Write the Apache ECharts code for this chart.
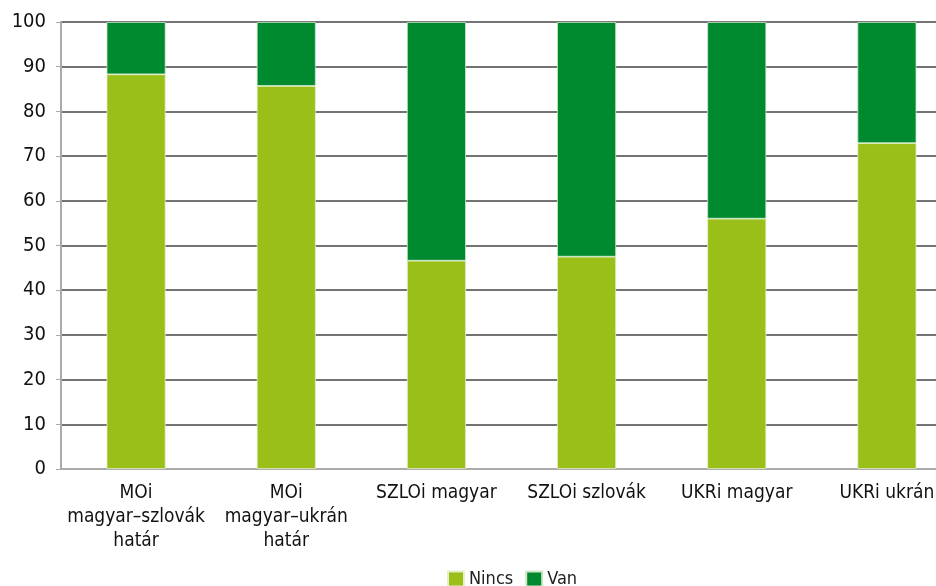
<!DOCTYPE html>
<html style="height: 100%">

<head>
    <meta charset="utf-8">
</head>

<body style="height: 100%; margin: 0; overflow: hidden">
    <!-- the last category runs past the right edge in the original, so the canvas is wider than the window -->
    <div id="container" style="width: 962px; height: 586px"></div>
    <script src="https://cdn.jsdelivr.net/npm/echarts@6/dist/echarts.min.js"></script>
    <script type="text/javascript">
        var categories = ['MOi\nmagyar–szlovák\nhatár', 'MOi\nmagyar–ukrán\nhatár', 'SZLOi magyar', 'SZLOi szlovák', 'UKRi magyar', 'UKRi ukrán'];
        var nincs = [88.3, 85.7, 46.6, 47.5, 56.0, 72.9];
        var van = [11.7, 14.3, 53.4, 52.5, 44.0, 27.1];
        var yTicks = [0, 10, 20, 30, 40, 50, 60, 70, 80, 90, 100];

        var font = '"DejaVu Sans Condensed", "Liberation Sans Narrow", "Open Sans", sans-serif';
        var dom = document.getElementById("container");
        var myChart = echarts.init(dom);

        var option = {
            animation: false,
            textStyle: { fontFamily: font },
            grid: {
                left: 61,
                top: 22,
                right: 0,
                bottom: 117
            },
            legend: {
                top: 570,
                left: 447,
                padding: 0,
                itemWidth: 16,
                itemHeight: 15,
                itemGap: 12,
                icon: 'rect',
                textStyle: { fontSize: 18, color: '#222', fontFamily: font },
                data: ['Nincs', 'Van']
            },
            xAxis: {
                type: 'category',
                data: categories,
                axisLine: { lineStyle: { color: '#aaa', width: 2 } },
                axisTick: { length: 6, lineStyle: { color: '#aaa' } },
                axisLabel: {
                    fontSize: 19,
                    color: '#111',
                    lineHeight: 24,
                    margin: 12,
                    interval: 0,
                    fontFamily: font
                }
            },
            yAxis: {
                type: 'value',
                min: yTicks[0],
                max: yTicks[yTicks.length - 1],
                interval: 10,
                axisLine: { show: true, lineStyle: { color: '#aaa', width: 2 } },
                axisTick: { show: true, length: 5, lineStyle: { color: '#aaa' } },
                axisLabel: { fontSize: 20, color: '#111', margin: 15, fontFamily: font },
                splitLine: { lineStyle: { color: '#444', width: 1.5 } }
            },
            series: [{
                name: 'Nincs',
                type: 'bar',
                stack: 'all',
                barWidth: 59,
                data: nincs,
                itemStyle: { color: '#9abf19', borderColor: '#e4f0c8', borderWidth: 0.8 }
            }, {
                name: 'Van',
                type: 'bar',
                stack: 'all',
                barWidth: 59,
                data: van,
                itemStyle: { color: '#008a2f', borderColor: '#cfe8c8', borderWidth: 0.8 }
            }]
        };

        myChart.setOption(option);
    </script>
</body>

</html>
